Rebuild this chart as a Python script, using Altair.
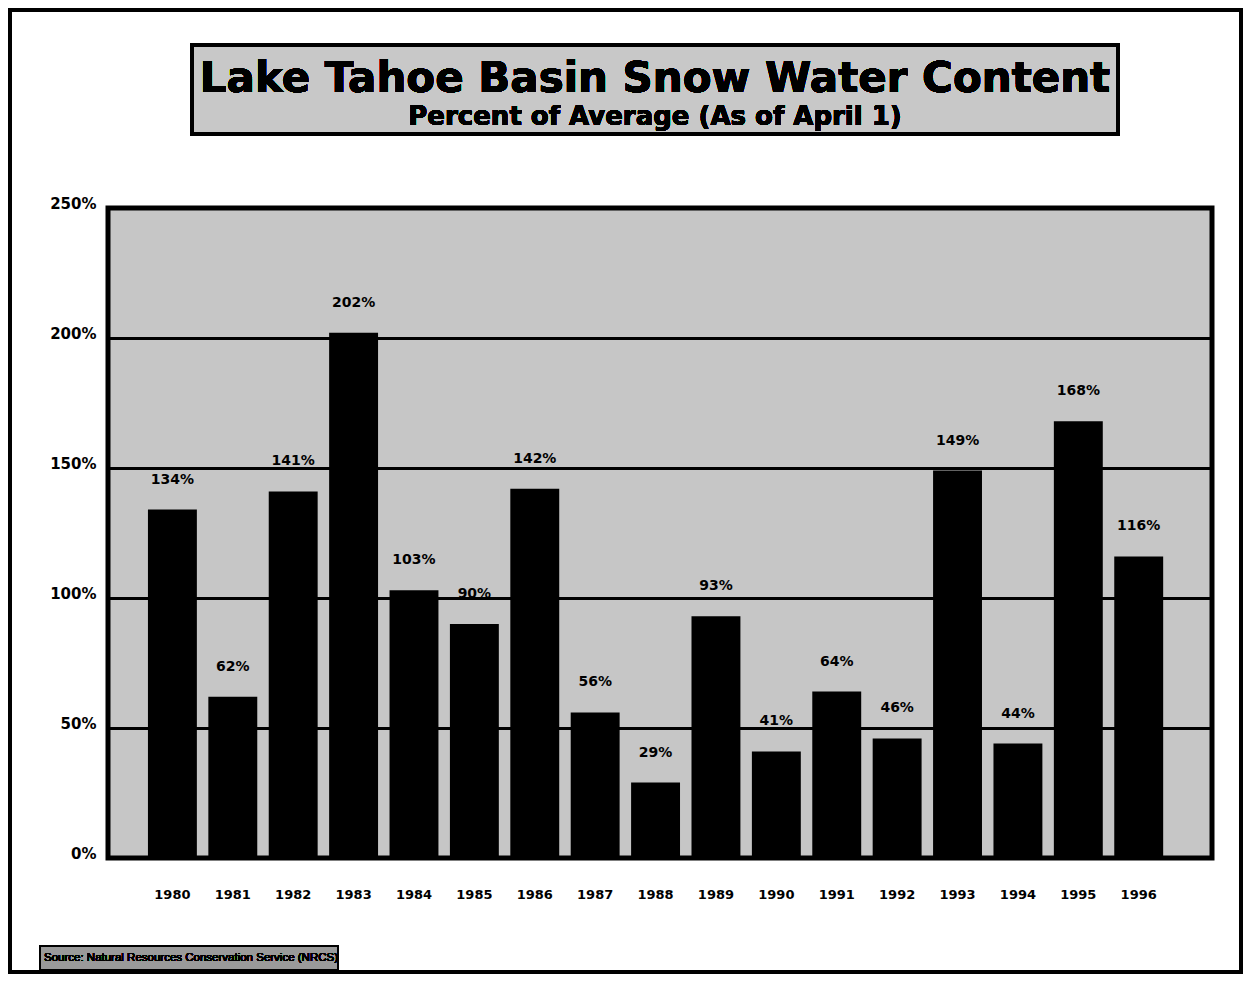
import altair as alt
import pandas as pd

years = ["1980", "1981", "1982", "1983", "1984", "1985", "1986", "1987", "1988",
         "1989", "1990", "1991", "1992", "1993", "1994", "1995", "1996"]
pct = [134, 62, 141, 202, 103, 90, 142, 56, 29, 93, 41, 64, 46, 149, 44, 168, 116]
y_ticks = [0, 50, 100, 150, 200, 250]

title_text = "Lake Tahoe Basin Snow Water Content"
subtitle_text = "Percent of Average (As of April 1)"
source_text = "Source: Natural Resources Conservation Service (NRCS)"

df = pd.DataFrame({"year": years, "pct": pct})
df["label"] = df["pct"].astype(str) + "%"

W, H = 1104, 650
FONT = "DejaVu Sans"

x_enc = alt.X("year:N", sort=years, title=None,
              scale=alt.Scale(paddingInner=0.19, paddingOuter=0.735, align=0.45),
              axis=alt.Axis(labelAngle=0, labelFont=FONT, labelFontWeight="bold",
                            labelFontSize=13, labelColor="black", labelPadding=30,
                            ticks=False, domain=False, grid=False))
y_enc = alt.Y("pct:Q", title=None,
              scale=alt.Scale(domain=[0, 250], nice=False),
              axis=alt.Axis(values=y_ticks, labelExpr="datum.value + '%'",
                            labelFont=FONT, labelFontWeight="bold", labelFontSize=15,
                            labelColor="black", labelPadding=12, labelOffset=-5,
                            ticks=False, domain=False, grid=True,
                            gridColor="black", gridWidth=3, gridOpacity=1))

base = alt.Chart(df)

bars = base.mark_bar(color="black").encode(x=x_enc, y=y_enc)

labels = base.mark_text(font=FONT, fontWeight="bold", fontSize=14, color="black",
                        baseline="middle", dy=-30).encode(
    x=alt.X("year:N", sort=years), y="pct:Q", text="label:N")

frame = base.mark_rect(fill=None, stroke="black", strokeWidth=4).encode(
    x=alt.value(-98), x2=alt.value(W + 29), y=alt.value(-198), y2=alt.value(H + 114))

title_box = base.mark_rect(fill="#c8c8c8", stroke="black", strokeWidth=4).encode(
    x=alt.value(84), x2=alt.value(1010), y=alt.value(-163), y2=alt.value(-74))

title_mark = base.mark_text(text=title_text, font=FONT, fontWeight="bold", fontSize=42,
                            color="black", align="center", baseline="middle").encode(
    x=alt.value(547), y=alt.value(-129))

subtitle_mark = base.mark_text(text=subtitle_text, font=FONT, fontWeight="bold",
                               fontSize=26, color="black", align="center",
                               baseline="middle").encode(
    x=alt.value(547), y=alt.value(-91))

source_box = base.mark_rect(fill="#9a9a9a", stroke="black", strokeWidth=2).encode(
    x=alt.value(-68), x2=alt.value(230), y=alt.value(738), y2=alt.value(762))

source_mark = base.mark_text(text=source_text, font="Liberation Sans", fontSize=11.5,
                             color="black", align="left", baseline="middle").encode(
    x=alt.value(-64), y=alt.value(750))

chart = alt.layer(
    bars, labels, frame, title_box, title_mark, subtitle_mark, source_box, source_mark
).properties(
    width=W, height=H,
    autosize=alt.AutoSizeParams(type="none"),
    padding={"left": 100, "top": 200, "right": 31, "bottom": 116},
    background="white",
).configure_view(
    fill="#c6c6c6", stroke="black", strokeWidth=5
)

chart.save("out.html", embed_options={"renderer": "svg", "actions": False})
